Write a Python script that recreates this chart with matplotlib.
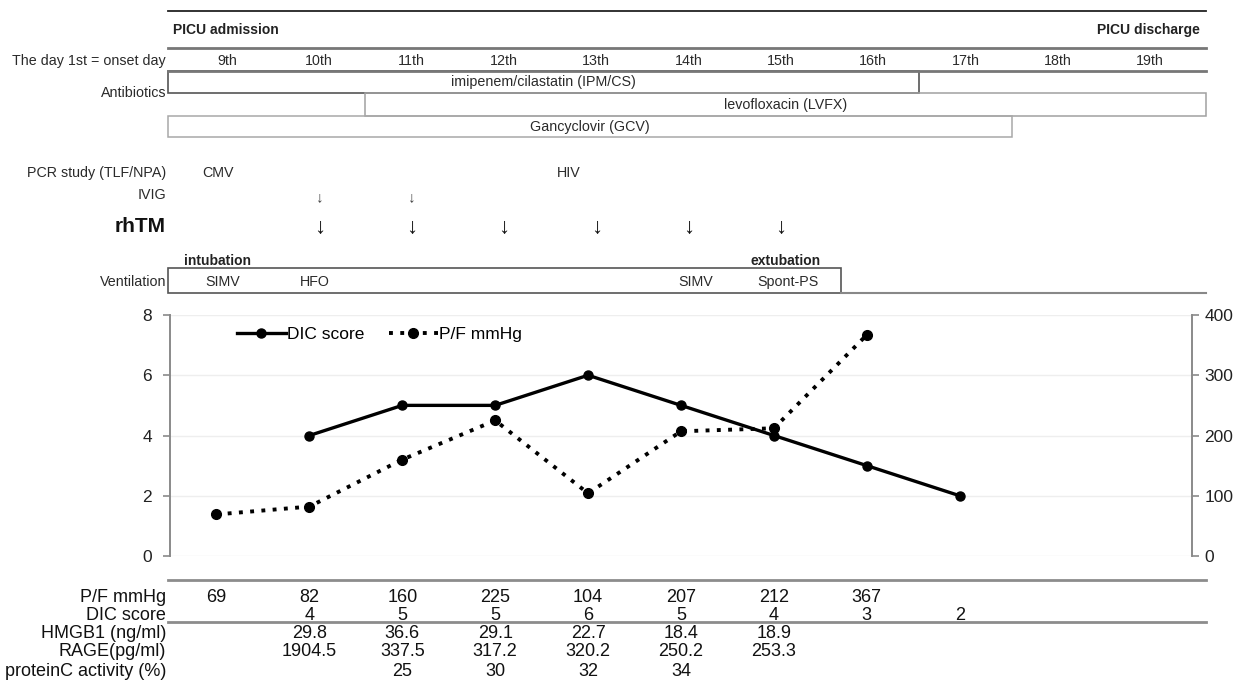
import matplotlib
matplotlib.use("Agg")
import matplotlib.pyplot as plt
from matplotlib.patches import Rectangle

plt.rcParams['font.family'] = ['Liberation Sans', 'DejaVu Sans']

# data
days = ['9th', '10th', '11th', '12th', '13th', '14th', '15th', '16th', '17th', '18th', '19th']
pf_idx = [0, 1, 2, 3, 4, 5, 6, 7]
pf_vals = [69, 82, 160, 225, 104, 207, 212, 367]
dic_idx = [1, 2, 3, 4, 5, 6, 7, 8]
dic_vals = [4, 5, 5, 6, 5, 4, 3, 2]

hmgb1 = ['', '29.8', '36.6', '29.1', '22.7', '18.4', '18.9']
rage = ['', '1904.5', '337.5', '317.2', '320.2', '250.2', '253.3']
protc = ['', '', '25', '30', '32', '34']

# antibiotics: (name, start day index, end day index)
ipm = ('imipenem/cilastatin (IPM/CS)', None, 7.5)
lvfx = ('levofloxacin (LVFX)', 1.5, None)
gcv = ('Gancyclovir (GCV)', None, 8.5)
ivig_days = [1, 2]
rhtm_days = [1, 2, 3, 4, 5, 6]
pcr = [(0, 'CMV'), (4, 'HIV')]
vent = [(0, 'SIMV'), (1, 'HFO'), (5, 'SIMV'), (6, 'Spont-PS')]
vent_end = 6.65

W, H = 1233, 691
fig = plt.figure(figsize=(W / 100, H / 100), dpi=100)

# main chart
L, R, T, B = 170, 1192, 315, 556
ax = fig.add_axes([L / W, 1 - B / H, (R - L) / W, (B - T) / H])
ax2 = ax.twinx()
ax.set_xlim(-0.5, 10.5)
ax.set_ylim(0, 8)
ax2.set_ylim(0, 400)
ax.set_yticks([0, 2, 4, 6, 8])
ax2.set_yticks([0, 100, 200, 300, 400])
ax.set_xticks([])
for a in (ax, ax2):
    for s in ('top', 'bottom'):
        a.spines[s].set_visible(False)
ax.spines['right'].set_visible(False)
ax2.spines['left'].set_visible(False)
ax.spines['left'].set_color('#8a8a8a')
ax.spines['left'].set_linewidth(1.4)
ax2.spines['right'].set_color('#8a8a8a')
ax2.spines['right'].set_linewidth(1.4)
ax.tick_params(axis='y', direction='out', length=5, width=1.2, color='#8a8a8a',
               labelsize=12.5, labelcolor='#222222', pad=8)
ax2.tick_params(axis='y', direction='out', length=5, width=1.2, color='#8a8a8a',
                labelsize=12.5, labelcolor='#222222', pad=4)
ax.grid(axis='y', color='#eeeeee', lw=1)
ax.set_axisbelow(True)

l1, = ax.plot(dic_idx, dic_vals, color='black', lw=2.4, marker='o', ms=6.5, label='DIC score', zorder=3)
l2, = ax2.plot(pf_idx, pf_vals, color='black', lw=2.8, ls=(0, (1, 1.9)), marker='o', ms=7,
               label='P/F mmHg', zorder=3)
ax.legend([l1, l2], ['DIC score', 'P/F mmHg'], ncol=2, frameon=False, fontsize=12.5,
          loc='center left', bbox_to_anchor=((237 - L) / (R - L), (B - 334) / (B - T)),
          borderpad=0, borderaxespad=0, handlelength=2.8, handletextpad=0.1,
          columnspacing=1.4)


def page_axes(px0, px1, v0, v1):
    # full-figure overlay, x in day units, y in pixels from top
    a = fig.add_axes([0, 0, 1, 1])
    k = (v1 - v0) / (px1 - px0)
    a.set_xlim(v0 - px0 * k, v0 + (W - px0) * k)
    a.set_ylim(H, 0)
    a.axis('off')
    return a, k


# header block
hx, k = page_axes(227, 1150, 0, 10)
xl = 0 - (227 - 168) * k
xr = 0 + (1206 - 227) * k
lab_x = 0 - (227 - 166) * k
txt = '#2a2a2a'
hs = 10.3

hx.plot([xl, xr], [11, 11], color='#222222', lw=1.3)
hx.plot([xl, xr], [48, 48], color='#777777', lw=2)
hx.plot([xl, xr], [71, 71], color='#777777', lw=2)
hx.text(xl + 5 * k, 30, 'PICU admission', fontsize=10, fontweight='bold', color='#222222', va='center')
hx.text(xr - 6 * k, 30, 'PICU discharge', fontsize=10, fontweight='bold', color='#222222',
        va='center', ha='right')
hx.text(lab_x, 61, 'The day 1st = onset day', fontsize=hs, color=txt, ha='right', va='center')
for i, d in enumerate(days):
    hx.text(i, 61, d, fontsize=hs, color=txt, ha='center', va='center')

# antibiotics boxes
hx.add_patch(Rectangle((xl, 71), ipm[2] - xl, 22, fill=False, ec='#555555', lw=1.2))
hx.add_patch(Rectangle((lvfx[1], 93), xr - lvfx[1], 23, fill=False, ec='#a0a0a0', lw=1.1))
hx.add_patch(Rectangle((xl, 116), gcv[2] - xl, 21, fill=False, ec='#a8a8a8', lw=1.1))
hx.text((xl + ipm[2]) / 2, 82, ipm[0], fontsize=hs, color=txt, ha='center', va='center')
hx.text((lvfx[1] + xr) / 2, 105, lvfx[0], fontsize=hs, color=txt, ha='center', va='center')
hx.text((xl + gcv[2]) / 2, 127, gcv[0], fontsize=hs, color=txt, ha='center', va='center')
hx.text(lab_x, 93, 'Antibiotics', fontsize=hs, color=txt, ha='right', va='center')

# PCR / IVIG / rhTM
hx.text(lab_x, 173, 'PCR study (TLF/NPA)', fontsize=hs, color=txt, ha='right', va='center')
for d, name in pcr:
    hx.text(d - 0.1 - 0.2 * (d > 0), 173, name, fontsize=hs, color=txt, ha='center', va='center')
hx.text(lab_x, 195, 'IVIG', fontsize=hs, color=txt, ha='right', va='center')
for d in ivig_days:
    hx.text(d, 197, '\u2193', fontsize=11, color='#444444', ha='center', va='center')
hx.text(lab_x, 226, 'rhTM', fontsize=15, fontweight='bold', color='#111111', ha='right', va='center')
for d in rhtm_days:
    hx.text(d, 227, '\u2193', fontsize=16, color='#111111', ha='center', va='center')

# ventilation
hx.text(0 - 0.1, 261, 'intubation', fontsize=10, fontweight='bold', color='#222222', ha='center', va='center')
hx.text(6 + 0.05, 261, 'extubation', fontsize=10, fontweight='bold', color='#222222', ha='center', va='center')
hx.add_patch(Rectangle((xl, 268), vent_end - xl, 25, fill=False, ec='#555555', lw=1.2))
hx.plot([vent_end, xr], [293, 293], color='#888888', lw=1.5)
hx.text(lab_x, 282, 'Ventilation', fontsize=hs, color=txt, ha='right', va='center')
for d, name in vent:
    hx.text(d - 0.05 * (d < 2) + 0.08 * (d >= 5), 282, name, fontsize=hs, color=txt,
            ha='center', va='center')

# data table under the chart
tx, k2 = page_axes(L, R, -0.5, 10.5)
t_left = -0.5 - (L - 168) * k2
t_right = -0.5 + (1206 - L) * k2
t_lab = -0.5 - (L - 166) * k2
ts = 13
tx.plot([t_left, t_right], [580, 580], color='#8c8c8c', lw=2)
tx.plot([t_left, t_right], [622, 622], color='#8c8c8c', lw=2)
rows = [
    ('P/F mmHg', 598, dict(zip(pf_idx, [str(v) for v in pf_vals]))),
    ('DIC score', 615, dict(zip(dic_idx, [str(v) for v in dic_vals]))),
    ('HMGB1 (ng/ml)', 634, dict(enumerate(hmgb1))),
    ('RAGE(pg/ml)', 652, dict(enumerate(rage))),
    ('proteinC activity (%)', 671, dict(enumerate(protc))),
]
for name, y, vals in rows:
    tx.text(t_lab, y, name, fontsize=ts, color='#111111', ha='right', va='center')
    for i, v in vals.items():
        if v:
            tx.text(i, y, v, fontsize=ts, color='#111111', ha='center', va='center')

fig.savefig('out.png', dpi=100)
